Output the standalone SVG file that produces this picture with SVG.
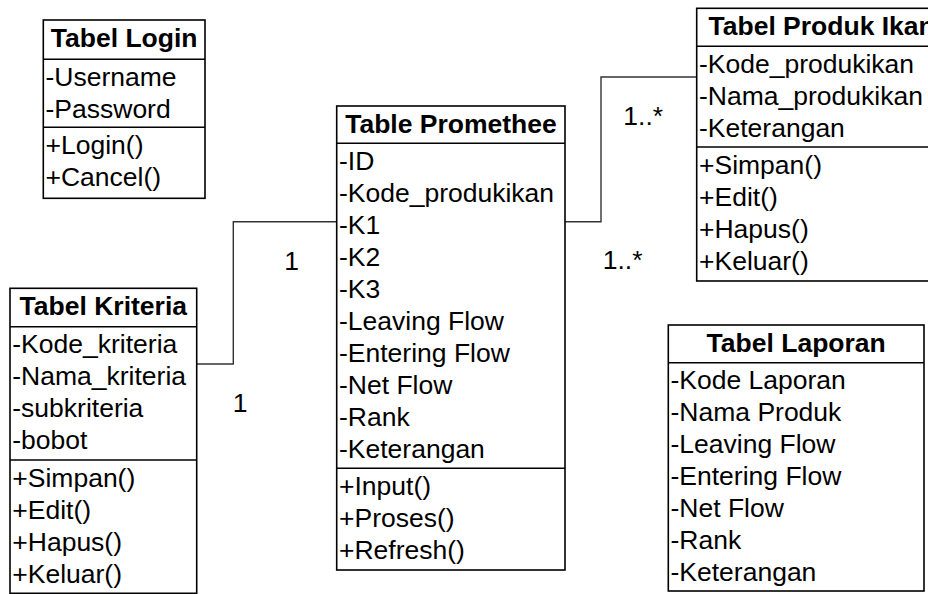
<svg xmlns="http://www.w3.org/2000/svg" width="928" height="594" viewBox="0 0 928 594">
<style>
  .box { fill: #fff; stroke: #000; stroke-width: 1.6; }
  .sep { stroke: #000; stroke-width: 1.6; fill: none; }
  .t { font-family: "Liberation Sans", Arial, sans-serif; font-size: 26.5px; fill: #000; }
  .h { font-family: "Liberation Sans", Arial, sans-serif; font-size: 26.5px; font-weight: bold; fill: #000; text-anchor: middle; }
  .conn { stroke: #333; stroke-width: 1.4; fill: none; }
</style>
<rect width="928" height="594" fill="#fff"/>
<g id="connectors">
  <polyline class="conn" points="336.7,221.7 233.3,221.7 233.3,364 196.7,364"/>
  <polyline class="conn" points="565,221.7 601,221.7 601,77 696.7,77"/>
  <text class="t" x="291.7" y="270" text-anchor="middle">1</text>
  <text class="t" x="240" y="412.3" text-anchor="middle">1</text>
  <text class="t" x="623.3" y="125">1..*</text>
  <text class="t" x="602.7" y="269">1..*</text>
</g>
<g id="tabel-login">
  <rect class="box" x="43.3" y="20" width="161.7" height="178.3"/>
  <line class="sep" x1="43.3" y1="59.3" x2="205" y2="59.3"/>
  <line class="sep" x1="43.3" y1="127.3" x2="205" y2="127.3"/>
  <text class="h" x="124.2" y="46.7">Tabel Login</text>
  <text class="t" x="45.5" y="86">-Username</text>
  <text class="t" x="45.5" y="118">-Password</text>
  <text class="t" x="45.5" y="154">+Login()</text>
  <text class="t" x="45.5" y="186">+Cancel()</text>
</g>
<g id="table-promethee">
  <rect class="box" x="336.7" y="106" width="228.3" height="464"/>
  <line class="sep" x1="336.7" y1="143.3" x2="565" y2="143.3"/>
  <line class="sep" x1="336.7" y1="468.3" x2="565" y2="468.3"/>
  <text class="h" x="451" y="132.7">Table Promethee</text>
  <text class="t" x="339" y="170">-ID</text>
  <text class="t" x="339" y="202">-Kode_produkikan</text>
  <text class="t" x="339" y="234">-K1</text>
  <text class="t" x="339" y="266">-K2</text>
  <text class="t" x="339" y="298">-K3</text>
  <text class="t" x="339" y="330">-Leaving Flow</text>
  <text class="t" x="339" y="362">-Entering Flow</text>
  <text class="t" x="339" y="394">-Net Flow</text>
  <text class="t" x="339" y="426">-Rank</text>
  <text class="t" x="339" y="458">-Keterangan</text>
  <text class="t" x="339" y="495">+Input()</text>
  <text class="t" x="339" y="527">+Proses()</text>
  <text class="t" x="339" y="559">+Refresh()</text>
</g>
<g id="tabel-kriteria">
  <rect class="box" x="10" y="288.3" width="186.7" height="305"/>
  <line class="sep" x1="10" y1="326.7" x2="196.7" y2="326.7"/>
  <line class="sep" x1="10" y1="460" x2="196.7" y2="460"/>
  <text class="h" x="103.3" y="315">Tabel Kriteria</text>
  <text class="t" x="12.3" y="353.4">-Kode_kriteria</text>
  <text class="t" x="12.3" y="385.4">-Nama_kriteria</text>
  <text class="t" x="12.3" y="417.4">-subkriteria</text>
  <text class="t" x="12.3" y="449.4">-bobot</text>
  <text class="t" x="12.3" y="486.7">+Simpan()</text>
  <text class="t" x="12.3" y="518.7">+Edit()</text>
  <text class="t" x="12.3" y="550.7">+Hapus()</text>
  <text class="t" x="12.3" y="582.7">+Keluar()</text>
</g>
<g id="tabel-produk-ikan">
  <rect class="box" x="696.7" y="8.3" width="250" height="272.7"/>
  <line class="sep" x1="696.7" y1="46.3" x2="946.7" y2="46.3"/>
  <line class="sep" x1="696.7" y1="147" x2="946.7" y2="147"/>
  <text class="t" x="708.5" y="35" font-weight="bold">Tabel Produk Ikan</text>
  <text class="t" x="699" y="73">-Kode_produkikan</text>
  <text class="t" x="699" y="105">-Nama_produkikan</text>
  <text class="t" x="699" y="137">-Keterangan</text>
  <text class="t" x="699" y="173.7">+Simpan()</text>
  <text class="t" x="699" y="205.7">+Edit()</text>
  <text class="t" x="699" y="237.7">+Hapus()</text>
  <text class="t" x="699" y="269.7">+Keluar()</text>
</g>
<g id="tabel-laporan">
  <rect class="box" x="668.3" y="325" width="255.7" height="266"/>
  <line class="sep" x1="668.3" y1="362.7" x2="924" y2="362.7"/>
  <text class="h" x="796.2" y="351.7">Tabel Laporan</text>
  <text class="t" x="670.5" y="389.4">-Kode Laporan</text>
  <text class="t" x="670.5" y="421.4">-Nama Produk</text>
  <text class="t" x="670.5" y="453.4">-Leaving Flow</text>
  <text class="t" x="670.5" y="485.4">-Entering Flow</text>
  <text class="t" x="670.5" y="517.4">-Net Flow</text>
  <text class="t" x="670.5" y="549.4">-Rank</text>
  <text class="t" x="670.5" y="581.4">-Keterangan</text>
</g>
</svg>
